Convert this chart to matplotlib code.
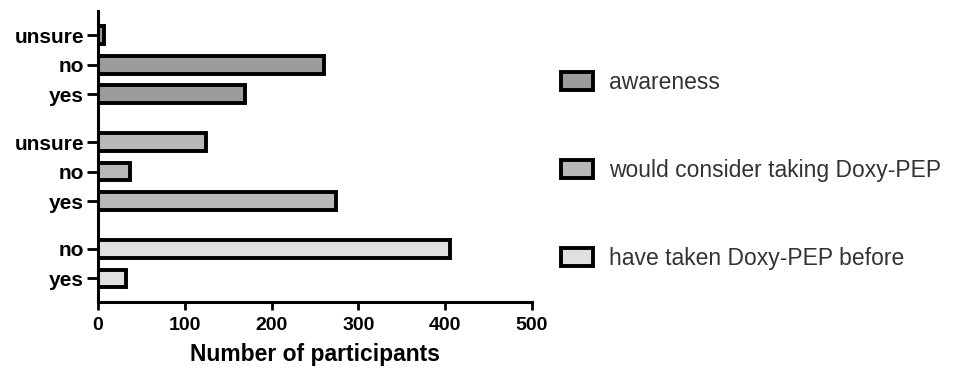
import matplotlib
matplotlib.use("Agg")
import matplotlib.pyplot as plt
from matplotlib.patches import Patch

plt.rcParams['font.family'] = ['Liberation Sans', 'DejaVu Sans']

# Data (bottom to top within each group)
groups = ["have taken Doxy-PEP before", "would consider taking Doxy-PEP", "awareness"]
taken_labels = ["yes", "no"]
taken_values = [32, 405]
consider_labels = ["yes", "no", "unsure"]
consider_values = [274, 37, 124]
aware_labels = ["yes", "no", "unsure"]
aware_values = [169, 260, 7]

colors = {"awareness": "#9c9c9c",
          "would consider taking Doxy-PEP": "#b8b8b8",
          "have taken Doxy-PEP before": "#e0e0e0"}

fig = plt.figure(figsize=(9.63, 3.70), dpi=100)
ax = fig.add_axes([98/963, 1-302/370, (532-98)/963, (302-11)/370])

gap = 1.62
positions, labels = [], []
start = 0.0
lw = 2.8
for name, labs, vals in [("have taken Doxy-PEP before", taken_labels, taken_values),
                         ("would consider taking Doxy-PEP", consider_labels, consider_values),
                         ("awareness", aware_labels, aware_values)]:
    pos = [start + i for i in range(len(labs))]
    ax.barh(pos, vals, height=0.6, color=colors[name], edgecolor="black", linewidth=lw)
    positions += pos
    labels += labs
    start = pos[-1] + gap

ax.set_yticks(positions)
ax.set_yticklabels(labels, fontsize=15, fontweight="bold")
ax.set_xlim(0, 500)
ax.set_ylim(-0.8, 9.06)
ax.set_xticks([0, 100, 200, 300, 400, 500])
ax.tick_params(axis="x", labelsize=14, length=6, width=2, pad=5)
for t in ax.get_xticklabels():
    t.set_fontweight("bold")
ax.tick_params(axis="y", length=8, width=2, pad=2)
ax.set_xlabel("Number of participants", fontsize=16.5, fontweight="bold", labelpad=6)
for s in ["top", "right"]:
    ax.spines[s].set_visible(False)
for s in ["left", "bottom"]:
    ax.spines[s].set_linewidth(2.2)

handles = [Patch(facecolor=colors[g], edgecolor="black", linewidth=lw, label=g)
           for g in ["awareness", "would consider taking Doxy-PEP", "have taken Doxy-PEP before"]]
fig.legend(handles=handles, loc="upper left", bbox_to_anchor=(540/963, 1-50/370),
           frameon=False, fontsize=16.5, handlelength=1.4, handleheight=0.85,
           handletextpad=0.7, labelspacing=2.85, labelcolor="#333333")

fig.savefig("out.png", dpi=100)
